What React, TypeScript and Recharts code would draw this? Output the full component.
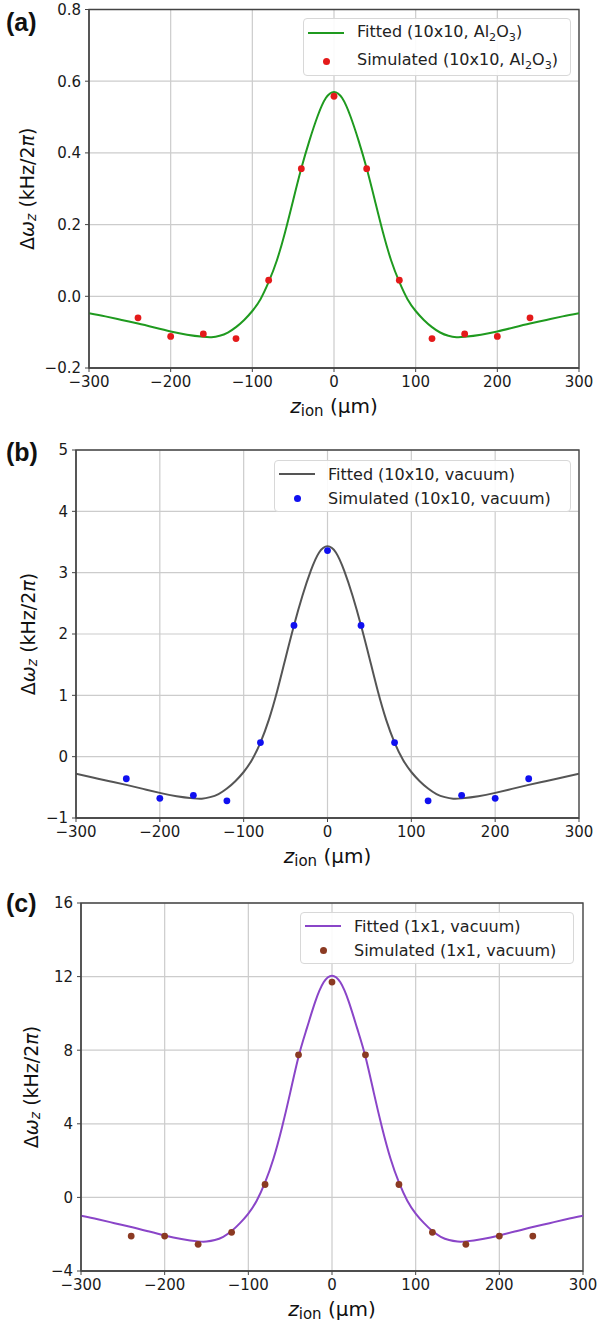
import React from 'react';
import { ComposedChart, Line, Scatter, XAxis, YAxis, CartesianGrid, ReferenceArea, Label } from 'recharts';

const FONT = '"DejaVu Sans", sans-serif';

// x grid of the fitted curves (µm)
const FIT_Z = [
  -300, -280, -260, -240, -220, -200, -180, -160, -150, -140, -130, -120, -110, -100, -90, -80, -70, -60, -50, -40, -30,
  -20, -10, 0, 10, 20, 30, 40, 50, 60, 70, 80, 90, 100, 110, 120, 130, 140, 150, 160, 180, 200, 220, 240, 260, 280, 300,
];

// (a) 10x10, Al2O3
const FIT_A = [
  -0.047, -0.056, -0.066, -0.076, -0.087, -0.098, -0.107, -0.113, -0.114, -0.11, -0.101, -0.086, -0.066, -0.041, -0.008,
  0.04, 0.1, 0.178, 0.268, 0.357, 0.435, 0.503, 0.553, 0.57, 0.553, 0.503, 0.435, 0.357, 0.268, 0.178, 0.1, 0.04, -0.008,
  -0.041, -0.066, -0.086, -0.101, -0.11, -0.114, -0.113, -0.107, -0.098, -0.087, -0.076, -0.066, -0.056, -0.047,
];
// (b) 10x10, vacuum
const FIT_B = [
  -0.28, -0.34, -0.4, -0.46, -0.525, -0.59, -0.645, -0.68, -0.685, -0.66, -0.61, -0.52, -0.4, -0.25, -0.05, 0.23, 0.6,
  1.07, 1.61, 2.14, 2.62, 3.03, 3.33, 3.43, 3.33, 3.03, 2.62, 2.14, 1.61, 1.07, 0.6, 0.23, -0.05, -0.25, -0.4, -0.52,
  -0.61, -0.66, -0.685, -0.68, -0.645, -0.59, -0.525, -0.46, -0.4, -0.34, -0.28,
];
// (c) 1x1, vacuum
const FIT_C = [
  -1.0, -1.19, -1.4, -1.61, -1.84, -2.07, -2.26, -2.39, -2.4, -2.32, -2.14, -1.83, -1.4, -0.88, -0.18, 0.81, 2.1, 3.76,
  5.68, 7.65, 9.2, 10.64, 11.69, 12.05, 11.69, 10.64, 9.2, 7.65, 5.68, 3.76, 2.1, 0.81, -0.18, -0.88, -1.4, -1.83, -2.14,
  -2.32, -2.4, -2.39, -2.26, -2.07, -1.84, -1.61, -1.4, -1.19, -1.0,
];

// simulated ion positions (µm)
const SIM_Z = [-240, -200, -160, -120, -80, -40, 0, 40, 80, 120, 160, 200, 240];
const SIM_A = [-0.06, -0.112, -0.105, -0.118, 0.045, 0.356, 0.558, 0.356, 0.045, -0.118, -0.105, -0.112, -0.06];
const SIM_B = [-0.36, -0.68, -0.63, -0.72, 0.23, 2.14, 3.36, 2.14, 0.23, -0.72, -0.63, -0.68, -0.36];
const SIM_C = [-2.1, -2.1, -2.55, -1.9, 0.7, 7.75, 11.7, 7.75, 0.7, -1.9, -2.55, -2.1, -2.1];

const X_TICKS = [-300, -200, -100, 0, 100, 200, 300];
const Y_TICKS_A = [-0.2, 0, 0.2, 0.4, 0.6, 0.8];
const Y_TICKS_B = [-1, 0, 1, 2, 3, 4, 5];
const Y_TICKS_C = [-4, 0, 4, 8, 12, 16];

const toPoints = (xs: number[], ys: number[]) => xs.map((x, i) => ({ x, y: ys[i] }));
const minus = (s: string) => s.replace('-', '\u2212');

const Al2O3 = () => (
  <>
    Al<sub style={{ fontSize: '0.7em' }}>2</sub>O<sub style={{ fontSize: '0.7em' }}>3</sub>
  </>
);

const PANELS = [
  {
    letter: '(a)',
    top: 0,
    height: 440,
    margin: { top: 9.5, right: 19, bottom: 42, left: 29 },
    yTicks: Y_TICKS_A,
    yFmt: (v: number) => minus(v.toFixed(1)),
    fit: toPoints(FIT_Z, FIT_A),
    sim: toPoints(SIM_Z, SIM_A),
    lineColor: '#1f9a1f',
    dotColor: '#e41a1a',
    fitLabel: <>Fitted (10x10, <Al2O3 />)</>,
    simLabel: <>Simulated (10x10, <Al2O3 />)</>,
    legend: { left: 303, top: 18, width: 268, rowH: 28, pad: 0 },
    yTitleX: 27,
    letterY: 22,
  },
  {
    letter: '(b)',
    top: 440,
    height: 440,
    margin: { top: 10, right: 19, bottom: 32, left: 16 },
    yTicks: Y_TICKS_B,
    yFmt: (v: number) => minus(String(v)),
    fit: toPoints(FIT_Z, FIT_B),
    sim: toPoints(SIM_Z, SIM_B),
    lineColor: '#555555',
    dotColor: '#1010f0',
    fitLabel: <>Fitted (10x10, vacuum)</>,
    simLabel: <>Simulated (10x10, vacuum)</>,
    legend: { left: 274, top: 20, width: 297, rowH: 24, pad: 1 },
    yTitleX: 28,
    letterY: 12,
  },
  {
    letter: '(c)',
    top: 880,
    height: 444,
    margin: { top: 23, right: 15, bottom: 23, left: 21 },
    yTicks: Y_TICKS_C,
    yFmt: (v: number) => minus(String(v)),
    fit: toPoints(FIT_Z, FIT_C),
    sim: toPoints(SIM_Z, SIM_C),
    lineColor: '#8a45c8',
    dotColor: '#8b3a22',
    fitLabel: <>Fitted (1x1, vacuum)</>,
    simLabel: <>Simulated (1x1, vacuum)</>,
    legend: { left: 300, top: 32, width: 274, rowH: 24, pad: 1 },
    yTitleX: 31,
    letterY: 23,
  },
];

const YTitle = ({ viewBox, tx }: any) => {
  const cy = viewBox.y + viewBox.height / 2;
  return (
    <text
      transform={`translate(${tx},${cy}) rotate(-90)`}
      textAnchor="middle"
      dominantBaseline="central"
      fontFamily={FONT}
      fontSize={19}
      fill="#111"
    >
      Δ<tspan fontStyle="italic">ω</tspan>
      <tspan fontStyle="italic" fontSize={14} dy={4}>z</tspan>
      <tspan dy={-4}>{' (kHz/2'}</tspan>
      <tspan fontStyle="italic">π</tspan>)
    </text>
  );
};

const XTitle = ({ viewBox }: any) => {
  const cx = viewBox.x + viewBox.width / 2;
  const cy = viewBox.y + 38;
  return (
    <text x={cx} y={cy} textAnchor="middle" dominantBaseline="central" fontFamily={FONT} fontSize={20} fill="#111">
      <tspan fontStyle="italic">z</tspan>
      <tspan fontSize={15} dy={5}>ion</tspan>
      <tspan dy={-5}>{' (µm)'}</tspan>
    </text>
  );
};

function LegendBox({ p }: { p: (typeof PANELS)[number] }) {
  const { left, top, width, rowH, pad } = p.legend;
  const row = { display: 'flex', alignItems: 'center', height: rowH };
  const sample = { width: 36, marginLeft: 4, marginRight: 13, display: 'flex', justifyContent: 'center' };
  return (
    <div
      style={{
        position: 'absolute',
        left,
        top,
        width,
        padding: `${pad}px 0`,
        border: '1px solid #d8d8d8',
        borderRadius: 4,
        background: 'rgba(255,255,255,0.9)',
        fontFamily: FONT,
        fontSize: 16,
        color: '#222',
        boxSizing: 'border-box',
        whiteSpace: 'nowrap',
      }}
    >
      <div style={row}>
        <div style={sample}>
          <div style={{ width: 36, height: 2, background: p.lineColor }} />
        </div>
        <span>{p.fitLabel}</span>
      </div>
      <div style={row}>
        <div style={sample}>
          <div style={{ width: 7, height: 7, borderRadius: '50%', background: p.dotColor }} />
        </div>
        <span>{p.simLabel}</span>
      </div>
    </div>
  );
}

function Panel({ p }: { p: (typeof PANELS)[number] }) {
  const yMin = p.yTicks[0];
  const yMax = p.yTicks[p.yTicks.length - 1];
  const tick = { fill: '#1a1a1a', fontSize: 15, fontFamily: FONT };
  const axisStroke = '#444';
  return (
    <div style={{ position: 'absolute', left: 0, top: p.top, width: 598, height: p.height }}>
      <ComposedChart width={598} height={p.height} margin={p.margin}>
        <CartesianGrid stroke="#cccccc" strokeWidth={1.2} />
        <XAxis
          type="number"
          dataKey="x"
          domain={[-300, 300]}
          ticks={X_TICKS}
          tickFormatter={(v: number) => minus(String(v))}
          tick={tick}
          tickSize={4}
          tickMargin={4}
          height={30}
          axisLine={{ stroke: axisStroke, strokeWidth: 1.3 }}
          tickLine={{ stroke: axisStroke }}
          allowDataOverflow
        >
          <Label content={(props: any) => <XTitle {...props} />} />
        </XAxis>
        <YAxis
          type="number"
          domain={[yMin, yMax]}
          ticks={p.yTicks}
          tickFormatter={p.yFmt}
          tick={tick}
          tickSize={4}
          tickMargin={4}
          width={60}
          axisLine={{ stroke: axisStroke, strokeWidth: 1.3 }}
          tickLine={{ stroke: axisStroke }}
          allowDataOverflow
        >
          <Label content={(props: any) => <YTitle {...props} tx={p.yTitleX} />} />
        </YAxis>
        <ReferenceArea x1={-300} x2={300} y1={yMin} y2={yMax} fill="none" stroke={axisStroke} strokeWidth={1.3} />
        <Line
          data={p.fit}
          dataKey="y"
          type="natural"
          stroke={p.lineColor}
          strokeWidth={2}
          dot={false}
          activeDot={false}
          isAnimationActive={false}
        />
        <Scatter
          data={p.sim}
          dataKey="y"
          fill={p.dotColor}
          isAnimationActive={false}
          shape={(s: any) => <circle cx={s.cx} cy={s.cy} r={3.4} fill={p.dotColor} />}
        />
      </ComposedChart>
      <LegendBox p={p} />
      <div
        style={{
          position: 'absolute',
          left: 6,
          top: p.letterY - 14,
          fontFamily: '"Liberation Sans", Arial, sans-serif',
          fontWeight: 'bold',
          fontSize: 25,
          lineHeight: '28px',
          color: '#111',
        }}
      >
        {p.letter}
      </div>
    </div>
  );
}

export default function App() {
  return (
    <div style={{ position: 'absolute', left: 0, top: 0, width: 598, height: 1324, background: '#fff', overflow: 'hidden' }}>
      {PANELS.map((p) => (
        <Panel key={p.letter} p={p} />
      ))}
    </div>
  );
}
